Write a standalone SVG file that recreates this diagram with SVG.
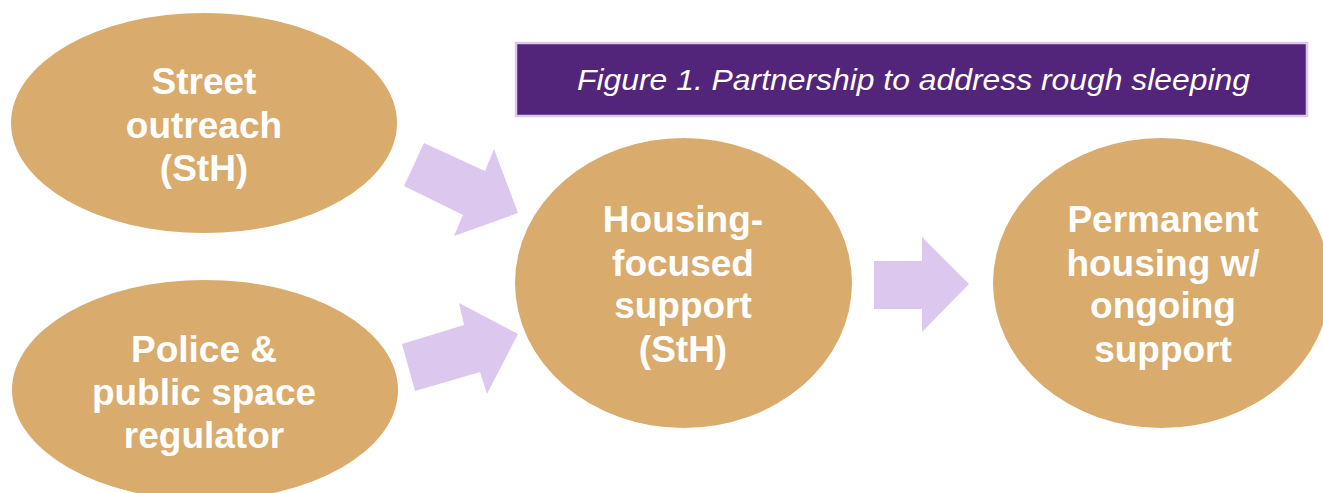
<svg xmlns="http://www.w3.org/2000/svg" width="1323" height="493" viewBox="0 0 1323 493">
  <style>
    .node { fill: #D9AB6D; }
    .lbl { font-family: "Liberation Sans", Arial, sans-serif; font-weight: bold; font-size: 37px; fill: #FFFFFF; text-anchor: middle; }
    .arrow { fill: #DCC8EF; }
    .title-box { fill: #52247A; stroke: #DCC8EF; stroke-width: 2.5; }
    .title { font-family: "Liberation Sans", Arial, sans-serif; font-style: italic; font-size: 30px; fill: #FFFFFF; }
  </style>
  <rect width="1323" height="493" fill="#FFFFFF"/>

  <g id="title">
    <rect class="title-box" x="516" y="43" width="791" height="73"/>
    <text class="title" x="577" y="90" textLength="673" lengthAdjust="spacingAndGlyphs">Figure 1. Partnership to address rough sleeping</text>
  </g>

  <g id="connectors">
    <polygon class="arrow" points="424,143 485,171 494,149 518,213 454,236 463,215 404,186"/>
    <polygon class="arrow" points="402,344 464,325 459,303 518,334 487,394 480,372 415,391"/>
    <polygon class="arrow" points="874,261 922,261 922,237 969,284 922,332 922,309 874,309"/>
  </g>

  <g id="street-outreach">
    <ellipse class="node" cx="204" cy="123" rx="193" ry="110"/>
    <text class="lbl" x="204" y="94">Street</text>
    <text class="lbl" x="204" y="137.5">outreach</text>
    <text class="lbl" x="204" y="181">(StH)</text>
  </g>

  <g id="police">
    <ellipse class="node" cx="205" cy="390" rx="193" ry="110"/>
    <text class="lbl" x="204" y="361.5">Police &amp;</text>
    <text class="lbl" x="204" y="405">public space</text>
    <text class="lbl" x="204" y="448">regulator</text>
  </g>

  <g id="housing-support">
    <ellipse class="node" cx="683.5" cy="283" rx="168.5" ry="145"/>
    <text class="lbl" x="683" y="231.5">Housing-</text>
    <text class="lbl" x="683" y="275.5">focused</text>
    <text class="lbl" x="683" y="318">support</text>
    <text class="lbl" x="683" y="361.5">(StH)</text>
  </g>

  <g id="permanent-housing">
    <ellipse class="node" cx="1161.5" cy="283" rx="168.5" ry="145"/>
    <text class="lbl" x="1163" y="231.5">Permanent</text>
    <text class="lbl" x="1163" y="275.5">housing w/</text>
    <text class="lbl" x="1163" y="318">ongoing</text>
    <text class="lbl" x="1163" y="361.5">support</text>
  </g>
</svg>
